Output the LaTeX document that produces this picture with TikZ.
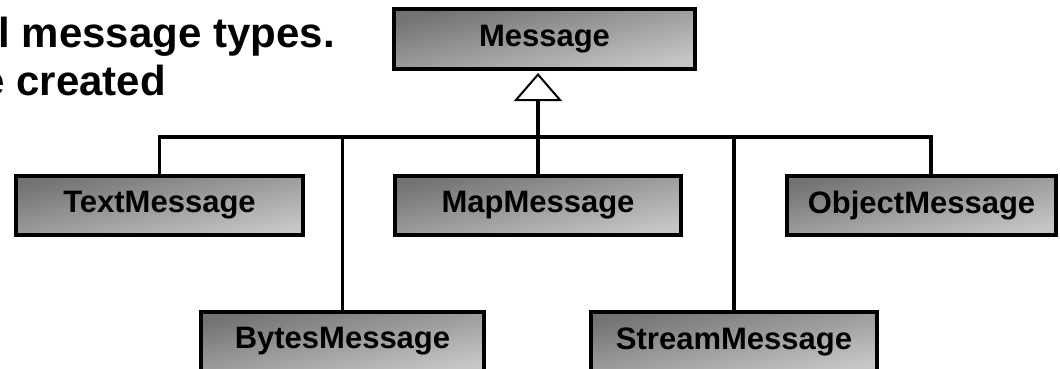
\documentclass[tikz,border=0pt]{standalone}
\usepackage{fontspec}
\setmainfont{Liberation Sans}
\usetikzlibrary{arrows.meta}
\definecolor{boxdark}{HTML}{727272}
\definecolor{boxlight}{HTML}{C6C6C6}
\tikzset{
  cls/.style={draw=black, line width=4pt, shading=axis, top color=boxdark, bottom color=boxlight, shading angle=12,
    minimum height=59pt, inner sep=0pt, font=\fontsize{31}{31}\selectfont\bfseries},
  conn/.style={draw=black, line width=3.5pt, line join=miter},
  headtxt/.style={anchor=base east, inner sep=0pt, font=\fontsize{42}{42}\selectfont\bfseries}
}
\begin{document}
\begin{tikzpicture}[x=1pt,y=-1pt]
\useasboundingbox (0,0) rectangle (1060,368);
\node[headtxt] (h1) at (335,47) {l message types.};
\node[headtxt] (h2) at (166,95) {e created};
\node[cls, minimum width=301pt, minimum height=60pt] (msg) at (544.5,39) {Message};
\node[cls, minimum width=287pt] (txt) at (159.5,205.5) {TextMessage};
\node[cls, minimum width=286pt] (map) at (538,205.5) {MapMessage};
\node[cls, minimum width=269pt] (obj) at (921.5,205.5) {ObjectMessage};
\node[cls, minimum width=283pt] (bytes) at (342.5,341.5) {BytesMessage};
\node[cls, minimum width=286pt] (stream) at (734,341.5) {StreamMessage};
\coordinate (bar) at (538,137);
\coordinate (objtop) at ([xshift=9.5pt]obj.north);
\draw[conn] (txt.north) |- (bar) -| (objtop);
\draw[conn] (map.north) -- (bar);
\draw[conn] (bytes.north) -- (bytes.north |- bar);
\draw[conn] (stream.north) -- (stream.north |- bar);
\draw[conn, shorten >=2pt, -{Triangle[fill=white, length=28pt, width=48pt, line width=2pt]}] (bar) -- (msg.south -| bar);
\end{tikzpicture}
\end{document}
